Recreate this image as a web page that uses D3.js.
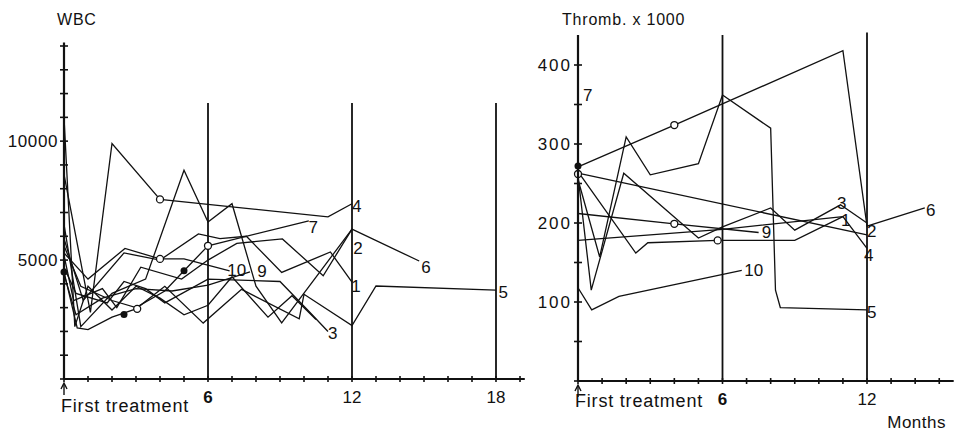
<!DOCTYPE html>
<html lang="en">
<head>
  <meta charset="UTF-8">
  <title>WBC and Thromb.</title>
  <script src="https://cdn.jsdelivr.net/npm/d3@7"></script>
  <style>
    body { margin: 0; background: #fff; }
    text { font-family: "Liberation Sans", Arial, sans-serif; fill: #111; }
  </style>
</head>
<body>
<script>
  // months after first treatment, value
  const wbcIds = ["1", "2", "3", "4", "5", "6", "7", "8", "9", "10"];
  const wbcValues = [
    [[0,5900],[0.8,3300],[2.5,5300],[4,5000],[5.6,6100],[6.5,5900],[7.6,6000],[9.07,4480],[11.1,5340],[12,4070]],
    [[0,6500],[0.7,2200],[2,3600],[3.4,4200],[5,8780],[6,6600],[7,7370],[8,3900],[9.07,2360],[12,6300]],
    [[0,4700],[0.5,3600],[1.8,3200],[2.5,4100],[3.4,3800],[4.2,3200],[6,4200],[9,4100],[10.2,2850],[11,2000]],
    [[0,8600],[1.1,2800],[2,9900],[4,7550],[11,6820],[12,7370]],
    [[0,4500],[0.55,2150],[1,2080],[2,2600],[3,2950],[4.2,3900],[5.8,2350],[7.4,3770],[9.8,2530],[10,3560],[12,2245],[13,3910],[18,3740]],
    [[0,5200],[0.4,3300],[1.6,3800],[2.2,3000],[3.2,4700],[4.9,4200],[6,5000],[7.2,5700],[9.1,5890],[10.8,4340],[12,6300],[14.8,4960]],
    [[0,5600],[0.7,3900],[2,3300],[3,3000],[4.2,3700],[5,4550],[6,5600],[10.2,6650]],
    [[0,11000],[0.45,2200],[1,3900],[2,2900],[3,3900],[4,3400],[5,2700],[6,3100],[7,4300],[8.5,2600],[9.5,3500],[10.5,2500]],
    [[0,4400],[0.5,2700],[1.6,3400],[3,3800],[4.5,3700],[6,3950],[7.75,4500]],
    [[0,5300],[1,4200],[2.54,5490],[4,5050],[5,5050],[6.9,4550]]
  ];
  const wbcLabelAt = [[12.17,3908],[12.25,5504],[11.2,1933],[12.2,7270],[18.3,3655],[15.08,4706],[10.38,6387],null,[8.25,4538],[7.2,4580]];
  const wbcOpen = [[4,7550],[4,5050],[6,5600],[3.05,2950]];
  const wbcFilled = [[0,4500],[2.5,2710],[5,4550]];
  const wbcYTicks = d3.range(0, 15000, 1000);
  const wbcYLabels = [5000, 10000];
  const wbcMonthTicks = d3.range(0, 20);
  const wbcMonthLabels = [6, 12, 18];

  const thrIds = ["1", "2", "3", "4", "5", "6", "9", "10"];
  const thrValues = [
    [[0,178],[6,192],[11,208]],
    [[0,263],[12,185]],
    [[0,260],[0.55,115],[1.9,263],[5,181],[6,195],[8,219],[9,191],[10.9,223],[12,200]],
    [[0,265],[2.4,162],[2.9,175],[5.8,178],[9,178],[11,208],[12,168]],
    [[0,255],[0.9,157],[2,309],[3,261],[5,275],[6,362],[8,320],[8.2,115],[8.4,93],[12,90]],
    [[0,271],[4,324],[11,418],[12,196],[14.4,219]],
    [[0,212],[4,199],[7.5,188]],
    [[0,118],[0.57,90],[1.7,107],[6.8,140]]
  ];
  const thrLabelAt = [[11.12,204],[12.2,190],[10.95,226],[12.07,160],[12.2,87],[14.65,216],[7.83,189],[7.3,140.5]];
  const thrOpen = [[4,324],[4,199],[5.8,178],[0,262]];
  const thrFilled = [[0,272]];
  const thrYTicks = d3.range(0, 450, 50);
  const thrYLabels = [100, 200, 300, 400];
  const thrMonthTicks = d3.range(0, 16);
  const thrMonthLabels = [6, 12];

  const svg = d3.select("body").append("svg")
    .attr("width", 954)
    .attr("height", 433);

  function panel(o) {
    const g = svg.append("g");
    const x = o.x, y = o.y;
    const line = d3.line().x(d => x(d[0])).y(d => y(d[1]));

    // vertical month lines
    o.vlines.forEach(v => {
      g.append("line")
        .attr("x1", x(v[0])).attr("x2", x(v[0]))
        .attr("y1", y(v[1])).attr("y2", y(0))
        .attr("stroke", "#111").attr("stroke-width", 1.8);
    });

    // series
    o.values.forEach(s => {
      g.append("path")
        .attr("d", line(s))
        .attr("fill", "none")
        .attr("stroke", "#111")
        .attr("stroke-width", 1.3);
    });

    g.selectAll(".open").data(o.open).enter().append("circle")
      .attr("cx", d => x(d[0])).attr("cy", d => y(d[1])).attr("r", 3.5)
      .attr("fill", "#fff").attr("stroke", "#111").attr("stroke-width", 1.3);
    g.selectAll(".filled").data(o.filled).enter().append("circle")
      .attr("cx", d => x(d[0])).attr("cy", d => y(d[1])).attr("r", 3.5)
      .attr("fill", "#111");

    o.ids.forEach((id, i) => {
      const p = o.labels[i];
      if (!p) return;
      g.append("text")
        .attr("x", x(p[0])).attr("y", y(p[1]))
        .attr("dy", "0.36em")
        .attr("text-anchor", "middle")
        .style("font-size", "17px")
        .text(id);
    });

    // axes
    const x0 = x(0), y0 = y(0);
    g.append("line")
      .attr("x1", x0).attr("x2", x0).attr("y1", y0).attr("y2", y(o.yTop))
      .attr("stroke", "#111").attr("stroke-width", 2.2);
    g.append("line")
      .attr("x1", x0).attr("x2", x(o.xEnd)).attr("y1", y0).attr("y2", y0)
      .attr("stroke", "#111").attr("stroke-width", 2.2);

    g.selectAll(".yt").data(o.yTicks).enter().append("line")
      .attr("x1", x0 - 4).attr("x2", x0 + 4)
      .attr("y1", d => y(d)).attr("y2", d => y(d))
      .attr("stroke", "#111").attr("stroke-width", 1.6);
    g.selectAll(".xt").data(o.xTicks).enter().append("line")
      .attr("x1", d => x(d)).attr("x2", d => x(d))
      .attr("y1", y0 - 3).attr("y2", y0 + 3)
      .attr("stroke", "#111").attr("stroke-width", 1.6);

    g.selectAll(".yl").data(o.yLabels).enter().append("text")
      .attr("x", x0 - 6).attr("y", d => y(d))
      .attr("dy", "0.36em")
      .attr("text-anchor", "end")
      .style("font-size", "17px")
      .style("letter-spacing", o.yLs)
      .text(d => d);
    g.selectAll(".xl").data(o.xLabels).enter().append("text")
      .attr("x", d => x(d)).attr("y", y0 + 24)
      .attr("text-anchor", "middle")
      .style("font-size", "17px")
      .style("font-weight", d => d === 6 ? "bold" : "normal")
      .text(d => d);

    // arrow at first treatment
    g.append("line")
      .attr("x1", x0).attr("x2", x0).attr("y1", y0 + 16).attr("y2", y0 + 5)
      .attr("stroke", "#111").attr("stroke-width", 1.4);
    g.append("path")
      .attr("d", `M${x0 - 3},${y0 + 10} L${x0},${y0 + 4} L${x0 + 3},${y0 + 10}`)
      .attr("fill", "none").attr("stroke", "#111").attr("stroke-width", 1.4);
    g.append("text")
      .attr("x", x0 - 3).attr("y", o.ftY)
      .style("font-size", "18px")
      .style("letter-spacing", "0.8px")
      .text("First treatment");

    g.append("text")
      .attr("x", o.titleX).attr("y", 25)
      .style("font-size", "16px")
      .style("letter-spacing", "0.8px")
      .text(o.title);
    return g;
  }

  panel({
    x: d3.scaleLinear().domain([0, 18]).range([64, 496]),
    y: d3.scaleLinear().domain([0, 14000]).range([379, 46]),
    ids: wbcIds, values: wbcValues, labels: wbcLabelAt,
    open: wbcOpen, filled: wbcFilled,
    yTicks: wbcYTicks, yLabels: wbcYLabels,
    xTicks: wbcMonthTicks, xLabels: wbcMonthLabels,
    vlines: [[6, 11600], [12, 11600], [18, 11600]],
    yTop: 14150, xEnd: 19.2, ftY: 412, yLs: "0.6px",
    title: "WBC", titleX: 57
  });

  const r = panel({
    x: d3.scaleLinear().domain([0, 12]).range([578, 867]),
    y: d3.scaleLinear().domain([0, 400]).range([381, 65]),
    ids: thrIds, values: thrValues, labels: thrLabelAt,
    open: thrOpen, filled: thrFilled,
    yTicks: thrYTicks, yLabels: thrYLabels,
    xTicks: thrMonthTicks, xLabels: thrMonthLabels,
    vlines: [[6, 438], [12, 441]],
    yTop: 438, xEnd: 15.6, ftY: 407, yLs: "2px",
    title: "Thromb. x 1000", titleX: 562
  });

  // label 7 on the thromb axis
  const yR = d3.scaleLinear().domain([0, 400]).range([381, 65]);
  r.append("text")
    .attr("x", 583).attr("y", yR(362))
    .attr("dy", "0.36em")
    .style("font-size", "17px")
    .text("7");

  svg.append("text")
    .attr("x", 946).attr("y", 428)
    .attr("text-anchor", "end")
    .style("font-size", "17px")
    .style("letter-spacing", "0.5px")
    .text("Months");
</script>
</body>
</html>
